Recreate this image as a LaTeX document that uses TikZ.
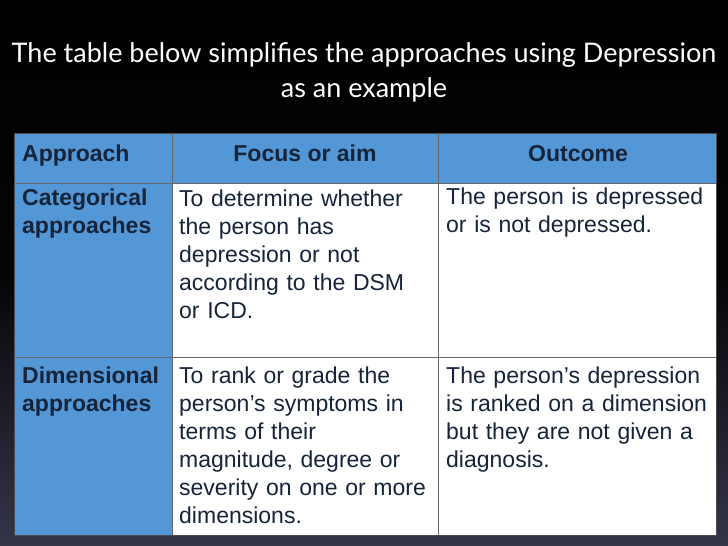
\documentclass[tikz,border=0pt]{standalone}
\usepackage{fontspec}
\setmainfont{Liberation Sans}
\newfontfamily\titlefont{Lato}
\definecolor{hdr}{HTML}{5497D6}
\definecolor{ink}{HTML}{16243A}
\definecolor{bgbot}{HTML}{35354A}
\begin{document}
\begin{tikzpicture}[x=1pt,y=-1pt,
  cell/.style={anchor=north west,align=left,text width=#1,inner sep=0pt,font=\fontsize{23}{28}\selectfont,text=ink},
  hcell/.style={font=\fontsize{23}{26}\selectfont\bfseries,text=ink,inner sep=0pt,anchor=base},
  title/.style={font=\titlefont\fontsize{27}{35}\selectfont,text=white,align=center}]
\shade[top color=black,bottom color=bgbot,middle color=black!90!bgbot] (0,0) rectangle (728,546);
\node[title] (t) at (364,72) {The table below simplifies the approaches using Depression\\as an example};
% fills
\fill[hdr] (14,133) rectangle (716,183);
\fill[hdr] (14,183) rectangle (172,535);
\fill[white] (172,183) rectangle (716,535);
% grid
\draw[black!70,line width=0.8] (14,133) rectangle (716,535);
\draw[black!60,line width=0.8] (14,183) -- (716,183);
\draw[black!60,line width=0.8] (14,357) -- (716,357);
\draw[black!60,line width=0.8] (172,133) -- (172,535);
\draw[black!60,line width=0.8] (438,133) -- (438,535);
% header
\node[hcell,anchor=base west] (h1) at (22,161) {Approach};
\node[hcell] (h2) at (305,161) {Focus or aim};
\node[hcell] (h3) at (578,161) {Outcome};
% row 1
\node[cell=160pt,font=\fontsize{23}{28}\selectfont\bfseries] (a1) at (22,189) {Categorical\\approaches};
\node[cell=265pt] (b1) at (179,190) {To determine whether\\the person has\\depression or not\\according to the DSM\\or ICD.};
\node[cell=280pt] (c1) at (446,188) {The person is depressed\\or is not depressed.};
% row 2
\node[cell=160pt,font=\fontsize{23}{28}\selectfont\bfseries] (a2) at (22,367) {Dimensional\\approaches};
\node[cell=265pt] (b2) at (179,367) {To rank or grade the\\person’s symptoms in\\terms of their\\magnitude, degree or\\severity on one or more\\dimensions.};
\node[cell=280pt] (c2) at (446,367) {The person’s depression\\is ranked on a dimension\\but they are not given a\\diagnosis.};
\end{tikzpicture}
\end{document}
